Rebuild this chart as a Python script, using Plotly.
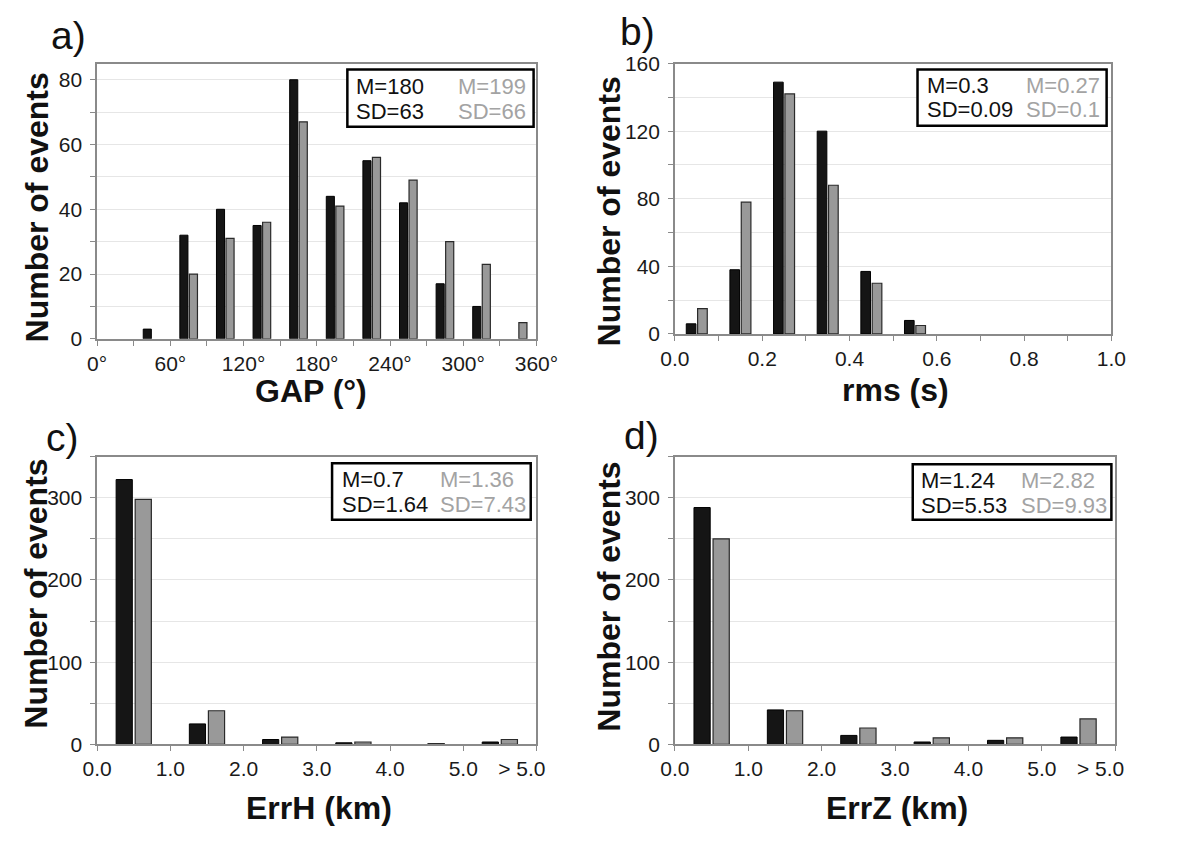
import plotly.graph_objects as go

W, H = 1179, 843
FONT = "Liberation Sans, Arial, sans-serif"

# ---------------- data ----------------
gap_centers = [15, 45, 75, 105, 135, 165, 195, 225, 255, 285, 315, 345]
gap_black = [0, 3, 32, 40, 35, 80, 44, 55, 42, 17, 10, 0]
gap_gray = [0, 0, 20, 31, 36, 67, 41, 56, 49, 30, 23, 5]

rms_centers = [0.05, 0.15, 0.25, 0.35, 0.45, 0.55, 0.65, 0.75, 0.85, 0.95]
rms_black = [6, 38, 149, 120, 37, 8, 0, 0, 0, 0]
rms_gray = [15, 78, 142, 88, 30, 5, 0, 0, 0, 0]

err_centers = [0.5, 1.5, 2.5, 3.5, 4.5, 5.5]
errh_black = [322, 25, 6, 2, 0, 3]
errh_gray = [298, 41, 9, 3, 1, 6]
errz_black = [288, 42, 11, 3, 5, 9]
errz_gray = [250, 41, 20, 8, 8, 31]

err_tickvals = [0, 1, 2, 3, 4, 5, 6]
err_ticktext = ["0.0", "1.0", "2.0", "3.0", "4.0", "5.0", "> 5.0\u00a0\u00a0\u00a0\u00a0\u00a0"]

stats = {
    "a": (("M=180", "SD=63"), ("M=199", "SD=66")),
    "b": (("M=0.3", "SD=0.09"), ("M=0.27", "SD=0.1")),
    "c": (("M=0.7", "SD=1.64"), ("M=1.36", "SD=7.43")),
    "d": (("M=1.24", "SD=5.53"), ("M=2.82", "SD=9.93")),
}
x_titles = {"a": "GAP (°)", "b": "rms (s)", "c": "ErrH (km)", "d": "ErrZ (km)"}
y_title = "Number of events"

# ---------------- layout helpers (pixel -> paper) ----------------
def px(x):
    return x / W

def py(y):
    return 1 - y / H

def shown(vals):
    # empty bins draw nothing (no zero-height outline)
    return [v if v else None for v in vals]

BLACK = "#151515"
GRAY = "#999999"
GRAYTXT = "#a3a3a3"
AXC = "#8a8a8a"
GRIDC = "#e6e6e6"

fig = go.Figure()

def add_pair(xc, yb, yg, xa, ya):
    fig.add_trace(go.Bar(x=xc, y=shown(yb), xaxis=xa, yaxis=ya,
                         marker=dict(color=BLACK, line=dict(color="#000000", width=1)), showlegend=False))
    fig.add_trace(go.Bar(x=xc, y=shown(yg), xaxis=xa, yaxis=ya,
                         marker=dict(color=GRAY, line=dict(color="#2a2a2a", width=1.2)), showlegend=False))

add_pair(gap_centers, gap_black, gap_gray, "x", "y")
add_pair(rms_centers, rms_black, rms_gray, "x2", "y2")
add_pair(err_centers, errh_black, errh_gray, "x3", "y3")
add_pair(err_centers, errz_black, errz_gray, "x4", "y4")

# plot-area pixel boxes: (left, right, top, bottom)
boxes = {
    "a": (86, 546, 53, 336),
    "b": (691, 1148, 53, 331),
    "c": (86, 546, 457, 753),
    "d": (691, 1152, 457, 753),
}

tickfont = dict(family=FONT, size=21, color="#1a1a1a")

def xaxis_common(b):
    l, r, t, bt = boxes[b]
    return dict(domain=[px(l), px(r)], showline=True, linecolor=AXC, linewidth=1.5, mirror=True,
                ticks="outside", ticklen=5, tickcolor=AXC, tickwidth=1, tickfont=tickfont,
                ticklabelstandoff=0, showgrid=False, zeroline=False, fixedrange=True)

def yaxis_common(b, rng, dt, mdt):
    l, r, t, bt = boxes[b]
    return dict(domain=[py(bt), py(t)], range=rng, dtick=dt, tick0=0, showline=True, linecolor=AXC, linewidth=1.5,
                mirror=True, ticks="outside", ticklen=5, tickcolor=AXC, tickwidth=1, tickfont=tickfont,
                showgrid=True, gridcolor=GRIDC, gridwidth=1, zeroline=False, ticklabelstandoff=4,
                minor=dict(dtick=mdt, tick0=0, ticks="outside", ticklen=5, tickcolor=AXC, showgrid=True,
                           gridcolor=GRIDC, gridwidth=1), fixedrange=True)

xa = xaxis_common("a")
xa.update(range=[0, 360], dtick=60, tick0=0, ticksuffix="°", anchor="y",
          minor=dict(dtick=30, tick0=0, ticks="outside", ticklen=5, tickcolor=AXC))
xb = xaxis_common("b")
xb.update(range=[0, 1.0], dtick=0.2, tick0=0, tickformat=".1f", anchor="y2",
          minor=dict(dtick=0.1, tick0=0, ticks="outside", ticklen=5, tickcolor=AXC))
xc = xaxis_common("c")
xc.update(range=[0, 6], tickmode="array", tickvals=err_tickvals, ticktext=err_ticktext, anchor="y3")
xd = xaxis_common("d")
xd.update(range=[0, 6], tickmode="array", tickvals=err_tickvals, ticktext=err_ticktext, anchor="y4")

ya = yaxis_common("a", [0, 85], 20, 10); ya.update(anchor="x")
yb = yaxis_common("b", [0, 160], 40, 20); yb.update(anchor="x2")
yc = yaxis_common("c", [0, 350], 100, 50); yc.update(anchor="x3")
yd = yaxis_common("d", [0, 350], 100, 50); yd.update(anchor="x4")

annotations = []
shapes = []

# panel labels
panel_lbl = {"a": (56, 24), "b": (652, 20), "c": (50, 437), "d": (656, 435)}
for k, (x, y) in panel_lbl.items():
    annotations.append(dict(text=k + ")", x=px(x), y=py(y), xref="paper", yref="paper", showarrow=False,
                            xanchor="center", yanchor="middle", font=dict(family=FONT, size=39, color="#111")))

# y titles
ytitle_pos = {"a": (23, 201), "b": (622, 205), "c": (22, 598), "d": (622, 601)}
for k, (x, y) in ytitle_pos.items():
    annotations.append(dict(text="<b>" + y_title + "</b>", x=px(x), y=py(y), xref="paper", yref="paper",
                            showarrow=False, textangle=-90, xanchor="center", yanchor="middle",
                            font=dict(family=FONT, size=32, color="#111")))

# x titles
xtitle_pos = {"a": (310, 390), "b": (922, 389), "c": (318, 818), "d": (923, 818)}
for k, (x, y) in xtitle_pos.items():
    annotations.append(dict(text="<b>" + x_titles[k] + "</b>", x=px(x), y=py(y), xref="paper", yref="paper",
                            showarrow=False, xanchor="center", yanchor="middle",
                            font=dict(family=FONT, size=32, color="#111")))

# stat boxes: (left, right, top, bottom, col1 x, col2 x, row1 y, row2 y)
stat_geo = {
    "a": (348, 543, 59, 118, 355, 462, 77, 102),
    "b": (945, 1143, 59, 117, 953, 1056, 76, 100),
    "c": (332, 540, 464, 522, 340, 443, 481, 506),
    "d": (940, 1148, 465, 522, 947, 1051, 482, 507),
}
for k, (l, r, t, b, c1, c2, r1, r2) in stat_geo.items():
    shapes.append(dict(type="rect", xref="paper", yref="paper", x0=px(l), x1=px(r), y0=py(b), y1=py(t),
                       line=dict(color="#000", width=2.5), fillcolor="white", layer="above"))
    (m1, s1), (m2, s2) = stats[k]
    for txt, x, y, col in [(m1, c1, r1, "#111"), (s1, c1, r2, "#111"), (m2, c2, r1, GRAYTXT), (s2, c2, r2, GRAYTXT)]:
        annotations.append(dict(text=txt, x=px(x), y=py(y), xref="paper", yref="paper", showarrow=False,
                                xanchor="left", yanchor="middle", font=dict(family=FONT, size=22, color=col)))

fig.update_layout(
    width=W, height=H, margin=dict(l=0, r=0, t=0, b=0),
    paper_bgcolor="white", plot_bgcolor="white",
    barmode="group", bargap=0.48, bargroupgap=0.15,
    xaxis=xa, yaxis=ya, xaxis2=xb, yaxis2=yb, xaxis3=xc, yaxis3=yc, xaxis4=xd, yaxis4=yd,
    annotations=annotations, shapes=shapes, font=dict(family=FONT),
)

fig.write_html("out.html")
